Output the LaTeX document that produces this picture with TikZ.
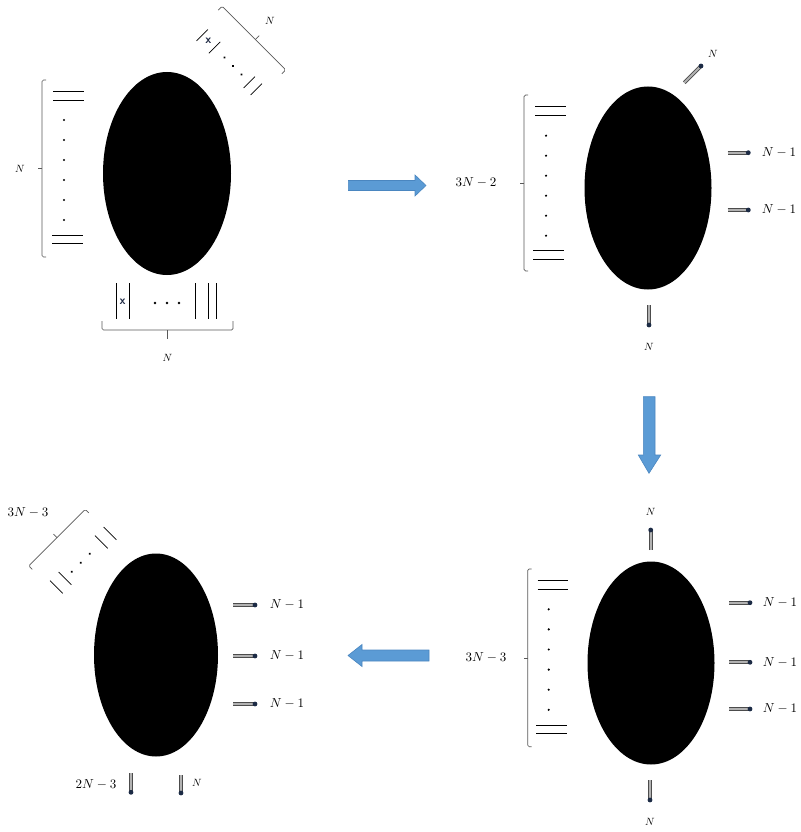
\documentclass[tikz,border=0pt]{standalone}
\usetikzlibrary{shapes.geometric}
\definecolor{stubblue}{HTML}{1C2B45}
\definecolor{arrowfill}{HTML}{5B9BD5}
\definecolor{arrowline}{HTML}{4A86C0}
\definecolor{xnavy}{HTML}{1F2A44}
\newcommand\mystub[2]{\draw[stubline] #1 -- #2; \fill[stubdot] #2 circle[radius=2.4];}
\begin{document}
\begin{tikzpicture}[x=1pt,y=-1pt,
  blob/.style={ellipse, fill=black, inner sep=0pt, minimum width=127pt, minimum height=203pt},
  brk/.style={draw=black!65, line width=0.7pt, rounded corners=1.5pt},
  bar/.style={draw=black, line width=0.7pt},
  pt/.style={fill=black},
  stubline/.style={draw=black!70, double=black!30, double distance=1.8pt, line width=1pt},
  stubdot/.style={fill=stubblue},
  lab/.style={font=\normalsize, scale=1.3, inner sep=0pt},
  slab/.style={font=\normalsize, scale=1.05, inner sep=0pt},
  xmark/.style={font=\sffamily\bfseries\normalsize, scale=1.2, text=xnavy, inner sep=0pt},
  bigarrow/.style={fill=arrowfill, draw=arrowline, line width=0.6pt},
]
\useasboundingbox (0,0) rectangle (800,832);

% ================= ellipse 1 (top left) =================
\node[blob, minimum width=128pt] (e1) at (167,173.5) {};
% left bracket
\draw[brk] (46,80) -- (42,80) -- (42,257) -- (46,257);
\draw[brk] (42,168.5) -- (38,168.5);
\node[slab] (l1n) at (20,169) {$N$};
\foreach \yy in {91.7,100} \draw[bar] (53,\yy) -- (84,\yy);
\foreach \yy in {235,243} \draw[bar] (52,\yy) -- (83,\yy);
\foreach \yy in {120,140,160,180,200,220} \fill[pt] (64,\yy) circle[radius=1.2];
% bottom group
\foreach \xx in {116,129.3,195.3,208,216.7} \draw[bar] (\xx,283) -- (\xx,319);
\node[xmark] (x1) at (122.5,302) {x};
\foreach \xx in {155,167,179} \fill[pt] (\xx,303) circle[radius=1.3];
\draw[brk] (102,321) -- (102,330) -- (233,330) -- (233,321);
\draw[brk] (167.5,330) -- (167.5,339);
\node[slab] (l1b) at (167.5,358) {$N$};
% top-right rotated group
\begin{scope}[shift={(233,66)}, rotate=-45]
  \foreach \xx in {-43.5,-26,23,33} \draw[bar] (\xx,-8) -- (\xx,8);
  \node[xmark] (x2) at (-35,0) {x};
  \foreach \xx in {-12,0,12} \fill[pt] (\xx,0) circle[radius=1.3];
  \draw[brk] (-50,-29) -- (-50,-34.5) -- (40,-34.5) -- (40,-29);
  \draw[brk] (-3,-34.5) -- (-3,-40);
\end{scope}
\node[slab] (l1t) at (270,21) {$N$};

% ================= arrow 1 (right) =================
\draw[bigarrow] (348.3,180.5) -- (415,180.5) -- (415,175) -- (426,185.5) -- (415,196) -- (415,190.5) -- (348.3,190.5) -- cycle;

% ================= ellipse 2 (top right) =================
\node[blob] (e2) at (648,188) {};
\draw[brk] (528,95) -- (524,95) -- (524,271) -- (528,271);
\draw[brk] (524,183) -- (520,183);
\node[lab] (l2) at (476,183) {$3N-2$};
\foreach \yy in {106,115} \draw[bar] (535,\yy) -- (566,\yy);
\foreach \yy in {250.7,259.3} \draw[bar] (533,\yy) -- (564,\yy);
\foreach \yy in {135.7,155.7,175.7,195.7,215.7,235.7} \fill[pt] (546,\yy) circle[radius=1.2];
\mystub{(684.3,82.7)}{(701,66)}
\node[slab] (l2t) at (713,54) {$N$};
\mystub{(727.7,152.7)}{(748.3,152.7)}
\node[lab] (l2r1) at (779,153) {$N-1$};
\mystub{(727.7,210)}{(748.3,210)}
\node[lab] (l2r2) at (779,210) {$N-1$};
\mystub{(649,305)}{(649,325)}
\node[slab] (l2b) at (649,347) {$N$};

% ================= arrow 2 (down) =================
\draw[bigarrow] (643.3,396.7) -- (655,396.7) -- (655,455) -- (660.7,455) -- (649,473.3) -- (638.3,455) -- (643.3,455) -- cycle;

% ================= ellipse 3 (bottom right) =================
\node[blob] (e3) at (651,663) {};
\mystub{(650.7,550)}{(650.7,530)}
\node[slab] (l3t) at (650.7,512) {$N$};
\draw[brk] (531.7,569) -- (527.7,569) -- (527.7,746.7) -- (531.7,746.7);
\draw[brk] (527.7,658) -- (523.7,658);
\node[lab] (l3) at (486,658) {$3N-3$};
\foreach \yy in {580.7,589.3} \draw[bar] (537.7,\yy) -- (568.3,\yy);
\foreach \yy in {725,733.3} \draw[bar] (536,\yy) -- (566.7,\yy);
\foreach \yy in {609.3,629.4,649.5,669.6,689.7,709.8} \fill[pt] (548.7,\yy) circle[radius=1.2];
\mystub{(729.3,602.7)}{(750,602.7)}
\node[lab] (l3r1) at (780,603) {$N-1$};
\mystub{(729.3,662.3)}{(750,662.3)}
\node[lab] (l3r2) at (780,662.3) {$N-1$};
\mystub{(729.3,709)}{(750,709)}
\node[lab] (l3r3) at (780,709) {$N-1$};
\mystub{(650,780)}{(650,800)}
\node[slab] (l3b) at (650,822) {$N$};

% ================= arrow 3 (left) =================
\draw[bigarrow] (429,650) -- (362,650) -- (362,644.5) -- (348,655.5) -- (362,666.5) -- (362,661) -- (429,661) -- cycle;

% ================= ellipse 4 (bottom left) =================
\node[blob, minimum width=124pt] (e4) at (156,655) {};
\mystub{(233.3,605)}{(255,605)}
\node[lab] (l4r1) at (287,605) {$N-1$};
\mystub{(233.3,656)}{(255,656)}
\node[lab] (l4r2) at (287,656) {$N-1$};
\mystub{(233.3,704)}{(255,704)}
\node[lab] (l4r3) at (287,704) {$N-1$};
\mystub{(131,773)}{(131,792.3)}
\node[lab] (l4b1) at (96,785) {$2N-3$};
\mystub{(181,775)}{(181,793)}
\node[slab] (l4b2) at (197,783) {$N$};
\begin{scope}[shift={(80.7,562.7)}, rotate=45]
  \foreach \xx in {-34.4,-22.2,29.2,41.4} \draw[bar] (\xx,-9) -- (\xx,9);
  \foreach \xx in {-12.7,0,12.7} \fill[pt] (\xx,0) circle[radius=1.3];
  \draw[brk] (-39,-29.5) -- (-39,-34.5) -- (41,-34.5) -- (41,-29.5);
  \draw[brk] (1,-34.5) -- (1,-39.5);
\end{scope}
\node[lab] (l4t) at (28,513) {$3N-3$};
\end{tikzpicture}
\end{document}
